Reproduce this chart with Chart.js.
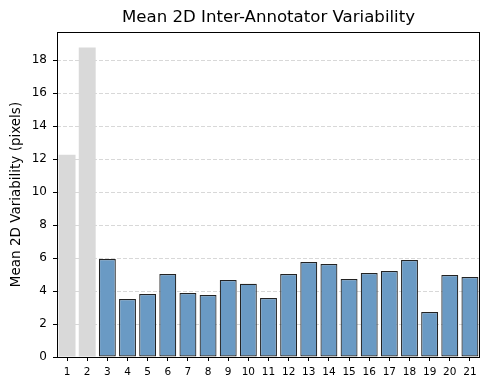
<!DOCTYPE html>
<html>
<head>
<meta charset="utf-8">
<script src="https://cdn.jsdelivr.net/npm/chart.js@4/dist/chart.umd.min.js"></script>
<style>
    html, body { margin: 0; padding: 0; background: #fff; }
    #wrap { width: 490px; height: 390px; }
</style>
</head>
<body>
<div id="wrap"><canvas id="chart"></canvas></div>
<script>
    "use strict";

    // Data
    const annotators = ["1", "2", "3", "4", "5", "6", "7", "8", "9", "10", "11",
        "12", "13", "14", "15", "16", "17", "18", "19", "20", "21"];
    const variability = [12.26, 18.76, 5.94, 3.52, 3.82, 5.03, 3.88, 3.76, 4.67, 4.44, 3.58,
        5.03, 5.76, 5.64, 4.73, 5.09, 5.21, 5.88, 2.73, 4.97, 4.85];
    const excluded = ["1", "2"];
    const yTicks = [0, 2, 4, 6, 8, 10, 12, 14, 16, 18];
    const chartTitle = "Mean 2D Inter-Annotator Variability";

    const isOut = annotators.map((a) => excluded.includes(a));

    // black box around the plot area + title centred over the axes (matplotlib style)
    const frame = {
        id: "frame",
        afterDatasetsDraw(chart) {
            const a = chart.chartArea;
            const ctx = chart.ctx;
            ctx.save();
            ctx.strokeStyle = "#000";
            ctx.lineWidth = 1;
            ctx.strokeRect(a.left + 0.5, a.top + 0.5, a.right - a.left - 1, a.bottom - a.top);
            ctx.fillStyle = "#000";
            ctx.font = "16.6px 'DejaVu Sans'";
            ctx.textAlign = "center";
            ctx.textBaseline = "middle";
            ctx.fillText(chartTitle, (a.left + a.right) / 2, 18);
            ctx.restore();
        },
    };

    const ctx = document.getElementById("chart").getContext("2d");
    new Chart(ctx, {
        type: "bar",
        data: {
            labels: annotators,
            datasets: [
                {
                    data: variability,
                    backgroundColor: isOut.map((o) => (o ? "#d9d9d9" : "#6a9ac4")),
                    borderColor: isOut.map((o) => (o ? "rgba(0,0,0,0)" : "#222222")),
                    borderWidth: isOut.map((o) => (o ? 0 : 1.2)),
                    borderSkipped: false,
                    barPercentage: 0.84,
                    categoryPercentage: 1,
                },
            ],
        },
        plugins: [frame],
        options: {
            responsive: true,
            maintainAspectRatio: false,
            animation: false,
            layout: { padding: { left: 0, right: 10, top: 32, bottom: 0 } },
            plugins: {
                legend: { display: false },
                tooltip: { enabled: false },
                title: { display: false },
            },
            scales: {
                x: {
                    offset: true,
                    grid: {
                        display: true,
                        offset: false,
                        drawOnChartArea: false,
                        drawTicks: true,
                        tickLength: 4,
                        tickColor: "#000",
                        color: "rgba(0,0,0,0)",
                    },
                    border: { display: false },
                    ticks: {
                        color: "#000",
                        font: { family: "DejaVu Sans", size: 10.5 },
                        maxRotation: 0,
                        autoSkip: false,
                        padding: 5,
                    },
                    afterFit(scale) { scale.height = 33; },
                },
                y: {
                    min: 0,
                    max: 19.7,
                    grid: {
                        color: "rgba(190,190,190,0.6)",
                        lineWidth: 1,
                        tickLength: 4,
                        tickColor: "#000",
                        tickBorderDash: [],
                    },
                    border: { display: false, dash: [4, 2] },
                    ticks: {
                        stepSize: 2,
                        color: "#000",
                        font: { family: "DejaVu Sans", size: 12 },
                        padding: 6,
                    },
                    afterBuildTicks(scale) {
                        scale.ticks = yTicks.map((v) => ({ value: v }));
                    },
                    title: {
                        display: true,
                        text: "Mean 2D Variability (pixels)",
                        color: "#000",
                        font: { family: "DejaVu Sans", size: 13.5 },
                        padding: { top: 8, bottom: 0 },
                    },
                    afterFit(scale) { scale.width = 57; },
                },
            },
        },
    });
</script>
</body>
</html>
